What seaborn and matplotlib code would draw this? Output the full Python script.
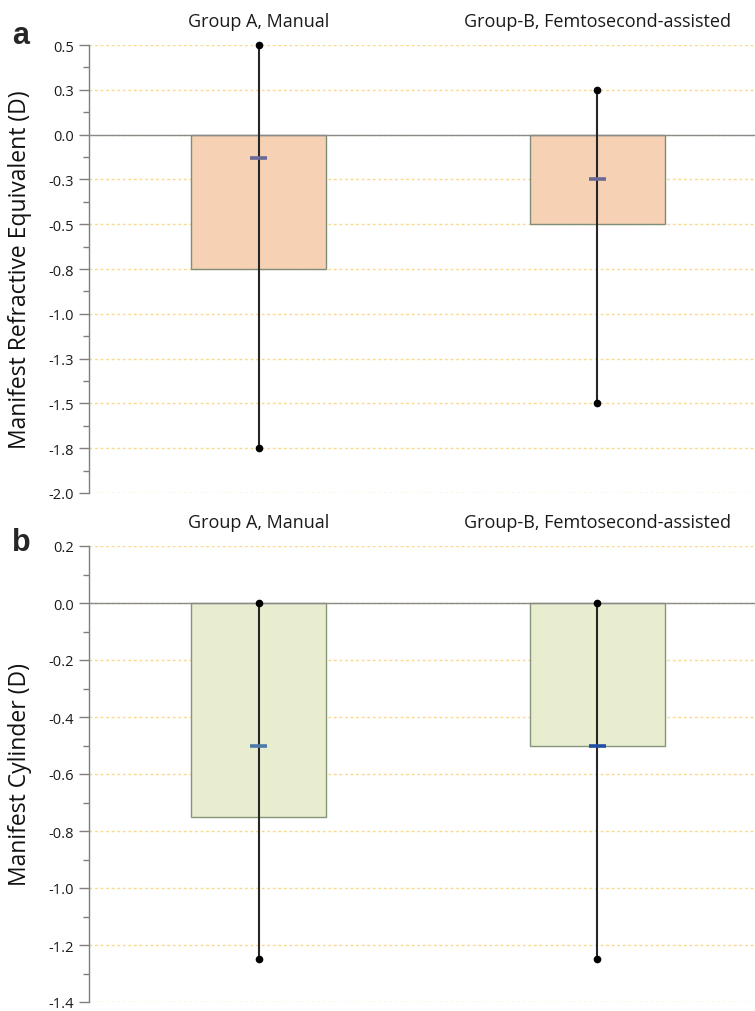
import numpy as np
import pandas as pd
import matplotlib
matplotlib.use("Agg")
import matplotlib.pyplot as plt
import seaborn as sns

# ---------------- data ----------------
categories = ["Group A, Manual", "Group-B, Femtosecond-assisted"]

sre_bar = [-0.75, -0.5]
sre_median = [-0.13, -0.25]
sre_max = [0.5, 0.25]
sre_min = [-1.75, -1.5]

cyl_bar = [-0.75, -0.5]
cyl_median = [-0.5, -0.5]
cyl_max = [0.0, 0.0]
cyl_min = [-1.25, -1.25]

sre_ticks = [0.5, 0.25, 0.0, -0.25, -0.5, -0.75, -1.0, -1.25, -1.5, -1.75, -2.0]
sre_ticklabels = ["0.5", "0.3", "0.0", "-0.3", "-0.5", "-0.8", "-1.0", "-1.3", "-1.5", "-1.8", "-2.0"]
cyl_ticks = [0.2, 0.0, -0.2, -0.4, -0.6, -0.8, -1.0, -1.2, -1.4]
cyl_ticklabels = ["0.2", "0.0", "-0.2", "-0.4", "-0.6", "-0.8", "-1.0", "-1.2", "-1.4"]

sns.set_theme(style="white")
plt.rcParams['font.family'] = ['Open Sans', 'DejaVu Sans']

fig = plt.figure(figsize=(7.55, 10.12), dpi=100)
ax_a = fig.add_axes([0.118, 1 - 494 / 1012, 0.882, (494 - 46) / 1012])
ax_b = fig.add_axes([0.118, 1 - 1003 / 1012, 0.882, (1003 - 547) / 1012])


def draw_panel(ax, bars, med, vmax, vmin, ticks, ticklabels, ylabel,
               fill, edge, med_colors, letter, letter_y):
    df = pd.DataFrame({"group": categories, "value": bars})
    sns.barplot(data=df, x="group", y="value", color=fill, saturation=1,
                edgecolor=edge, linewidth=1.0, width=0.4, ax=ax, zorder=2)
    for p in ax.patches:
        p.set_facecolor(fill)
    xs = np.arange(len(categories))
    ax.axhline(0, color="#8a8a8a", lw=1.0, zorder=3)
    ax.vlines(xs, vmin, vmax, color="#262626", lw=1.5, zorder=4)
    ax.plot(xs, vmax, "o", color="black", ms=4.5, zorder=5, clip_on=False)
    ax.plot(xs, vmin, "o", color="black", ms=4.5, zorder=5, clip_on=False)
    for x, m, c in zip(xs, med, med_colors):
        ax.hlines(m, x - 0.025, x + 0.025, color=c, lw=2.6, zorder=6)
    ax.set_xlim(-0.5, 1.465)
    ax.set_ylim(ticks[-1], ticks[0])
    ax.set_yticks(ticks)
    ax.set_yticklabels(ticklabels, fontsize=10.5, color="#1a1a1a")
    minor = [(a + b) / 2 for a, b in zip(ticks[:-1], ticks[1:])]
    ax.set_yticks(minor, minor=True)
    ax.tick_params(axis="y", which="major", length=7, width=1, color="#7f7f7f",
                   left=True, pad=4)
    ax.tick_params(axis="y", which="minor", length=4, width=1, color="#7f7f7f", left=True)
    ax.yaxis.grid(True, which="major", linestyle=(0, (2, 2)), color="#FBD98A", lw=1.0)
    for gl in ax.get_ygridlines():
        gl.set_snap(True)
    ax.set_axisbelow(True)
    ax.xaxis.tick_top()
    ax.set_xticks(xs)
    ax.set_xticklabels(categories, fontsize=13, color="#1a1a1a")
    ax.tick_params(axis="x", length=0, pad=11)
    ax.set_xlabel("")
    ax.set_ylabel(ylabel, fontsize=16.5, color="#111111")
    ax.yaxis.set_label_coords(-0.085, 0.5)
    for s in ["top", "right", "bottom"]:
        ax.spines[s].set_visible(False)
    ax.spines["left"].set_color("#7f7f7f")
    ax.spines["left"].set_linewidth(1.0)
    fig.text(21 / 755, 1 - letter_y / 1012, letter, fontsize=22, fontweight="bold",
             ha="center", va="center", family=["Liberation Sans", "DejaVu Sans"])


draw_panel(ax_a, sre_bar, sre_median, sre_max, sre_min, sre_ticks, sre_ticklabels,
           "Manifest Refractive Equivalent (D)", "#F7D1B4", "#7E8C78",
           ["#6A6A96", "#6A6A96"], "a", 36)
draw_panel(ax_b, cyl_bar, cyl_median, cyl_max, cyl_min, cyl_ticks, cyl_ticklabels,
           "Manifest Cylinder (D)", "#E9EDD0", "#86967A",
           ["#4C7BA8", "#1F50A8"], "b", 543)

fig.savefig("out.png", dpi=100)
